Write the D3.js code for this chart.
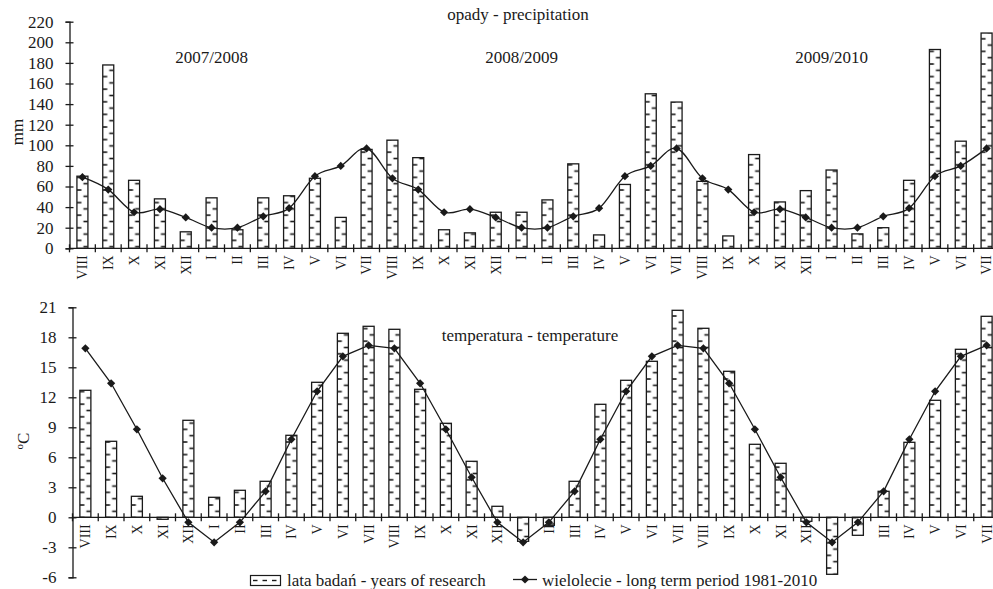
<!DOCTYPE html>
<html>
<head>
<meta charset="utf-8">
<script src="https://cdn.jsdelivr.net/npm/d3@7"></script>
<style>
  body { margin: 0; background: #fff; }
  svg text { font-family: "Liberation Serif", "Times New Roman", serif; fill: #1a1a1a; }
</style>
</head>
<body>
<svg id="chart" width="993" height="589"></svg>
<script>
// months from VIII 2007 to VII 2010
var months = ['VIII','IX','X','XI','XII','I','II','III','IV','V','VI','VII',
              'VIII','IX','X','XI','XII','I','II','III','IV','V','VI','VII',
              'VIII','IX','X','XI','XII','I','II','III','IV','V','VI','VII'];
var seasons = ['2007/2008', '2008/2009', '2009/2010'];

// opady - precipitation, mm
var precipResearch = [70, 178, 66, 48, 16, 49, 18, 49, 51, 68, 30, 96,
                      105, 88, 18, 15, 35, 35, 47, 82, 13, 62, 150, 142,
                      65, 12, 91, 45, 56, 76, 14, 20, 66, 193, 104, 209];
var precipLongTerm = [69, 57, 35, 38, 30, 20, 20, 31, 39, 70, 80, 97,
                      68, 57, 35, 38, 30, 20, 20, 31, 39, 70, 80, 97,
                      68, 57, 35, 38, 30, 20, 20, 31, 39, 70, 80, 97];
var precipTicks = d3.range(0, 221, 20);

// temperatura - temperature, oC
var tempResearch = [12.7, 7.6, 2.1, -0.2, 9.7, 2.0, 2.7, 3.6, 8.2, 13.5, 18.4, 19.1,
                    18.8, 12.8, 9.4, 5.6, 1.1, -2.4, -0.8, 3.6, 11.3, 13.7, 15.6, 20.7,
                    18.9, 14.6, 7.3, 5.4, -0.4, -5.7, -1.8, 2.6, 7.5, 11.7, 16.8, 20.1];
var tempLongTerm = [16.9, 13.4, 8.8, 3.9, -0.5, -2.5, -0.5, 2.6, 7.8, 12.6, 16.1, 17.2,
                    16.9, 13.4, 8.8, 4.0, -0.5, -2.5, -0.5, 2.6, 7.8, 12.6, 16.1, 17.2,
                    16.9, 13.4, 8.8, 4.0, -0.5, -2.5, -0.5, 2.6, 7.8, 12.6, 16.1, 17.2];
var tempTicks = d3.range(-6, 22, 3);

var svg = d3.select('#chart');
var defs = svg.append('defs');
var ink = '#1a1a1a';
var barW = 11;

// dashed fill, tile as wide as one category so every bar looks the same
function make_pattern(id, x0, step) {
  var p = defs.append('pattern')
    .attr('id', id)
    .attr('patternUnits', 'userSpaceOnUse')
    .attr('x', x0).attr('y', 0)
    .attr('width', step).attr('height', 12.6);
  p.append('rect').attr('width', step).attr('height', 12.6).attr('fill', '#fff');
  p.append('line').attr('x1', 0).attr('x2', 4.5).attr('y1', 1).attr('y2', 1)
    .attr('stroke', ink).attr('stroke-width', 1.6);
  p.append('line').attr('x1', 6.5).attr('x2', barW).attr('y1', 7.3).attr('y2', 7.3)
    .attr('stroke', ink).attr('stroke-width', 1.6);
}

function draw_panel(opt) {
  var g = svg.append('g');
  var x = d3.scaleBand().domain(d3.range(months.length)).range(opt.xRange);
  var y = d3.scaleLinear().domain(opt.domain).range(opt.yRange);
  var step = x.step();
  var off = (step - barW) / 2;
  var y0 = y(0);

  make_pattern(opt.id, x(0) + off, step);

  // month labels (under the bars, like the original)
  g.selectAll('.month')
    .data(months)
    .enter().append('text')
    .attr('class', 'month')
    .attr('transform', (d, i) => 'translate(' + (x(i) + step / 2) + ',' + (y0 + 7) + ') rotate(-90)')
    .attr('text-anchor', 'end')
    .attr('dy', '0.35em')
    .style('font-size', '14px')
    .text(d => d);

  // bars
  g.selectAll('.bar')
    .data(opt.bars)
    .enter().append('rect')
    .attr('class', 'bar')
    .attr('x', (d, i) => x(i) + off)
    .attr('y', d => y(Math.max(d, 0)))
    .attr('width', barW)
    .attr('height', d => Math.abs(y(d) - y0))
    .attr('fill', 'url(#' + opt.id + ')')
    .attr('stroke', ink)
    .attr('stroke-width', 1.3);

  // y axis, ticks crossing the line
  var ya = g.append('g')
    .attr('transform', 'translate(' + opt.xRange[0] + ',0)')
    .call(d3.axisLeft(y).tickValues(opt.ticks).tickSize(4).tickPadding(12).tickFormat(d => String(d)));
  ya.select('.domain').attr('stroke', ink).attr('stroke-width', 1.3);
  ya.selectAll('.tick line').attr('x1', 4).attr('stroke', ink).attr('stroke-width', 1.3);
  ya.selectAll('.tick text').style('font-size', '17px').attr('fill', ink);

  // x axis with ticks between categories
  g.append('line')
    .attr('x1', opt.xRange[0]).attr('x2', opt.xRange[1])
    .attr('y1', y0).attr('y2', y0)
    .attr('stroke', ink).attr('stroke-width', 1.3);
  g.selectAll('.xtick')
    .data(d3.range(months.length + 1))
    .enter().append('line')
    .attr('class', 'xtick')
    .attr('x1', i => opt.xRange[0] + i * step).attr('x2', i => opt.xRange[0] + i * step)
    .attr('y1', y0 - 4).attr('y2', y0 + 4)
    .attr('stroke', ink).attr('stroke-width', 1.3);

  // long term line
  var line = d3.line()
    .x((d, i) => x(i) + step / 2)
    .y(d => y(d))
    .curve(opt.curve);
  g.append('path')
    .datum(opt.longTerm)
    .attr('d', line)
    .attr('fill', 'none')
    .attr('stroke', ink)
    .attr('stroke-width', 1.3);
  g.selectAll('.mark')
    .data(opt.longTerm)
    .enter().append('path')
    .attr('class', 'mark')
    .attr('d', d3.symbol(d3.symbolSquare, 34))
    .attr('transform', (d, i) => 'translate(' + (x(i) + step / 2) + ',' + y(d) + ') rotate(45)')
    .attr('fill', ink);

  // axis title
  g.append('text')
    .attr('transform', 'translate(' + opt.titlePos[0] + ',' + opt.titlePos[1] + ') rotate(-90)')
    .attr('text-anchor', 'middle')
    .attr('dy', '0.35em')
    .style('font-size', '17px')
    .call(opt.unit);

  return { x: x, y: y };
}

var precipPanel = draw_panel({
  id: 'dashP', bars: precipResearch, longTerm: precipLongTerm, ticks: precipTicks,
  domain: [0, 220], xRange: [69.5, 999.5], yRange: [248.3, 21.7],
  curve: d3.curveCardinal.tension(0), titlePos: [17, 132],
  unit: t => t.text('mm')
});

draw_panel({
  id: 'dashT', bars: tempResearch, longTerm: tempLongTerm, ticks: tempTicks,
  domain: [-6, 21], xRange: [72.5, 999.5], yRange: [577.3, 307.3],
  curve: d3.curveLinear, titlePos: [23, 441],
  unit: t => {
    t.append('tspan').text('o').style('font-size', '11px').attr('baseline-shift', '0.55em');
    t.append('tspan').text('C');
  }
});

// titles
svg.append('text')
  .attr('x', 518).attr('y', 20)
  .attr('text-anchor', 'middle')
  .style('font-size', '17px')
  .text('opady - precipitation');

svg.append('text')
  .attr('x', 530).attr('y', 341)
  .attr('text-anchor', 'middle')
  .style('font-size', '17px')
  .text('temperatura - temperature');

// season labels over the January of each season
svg.selectAll('.season')
  .data(seasons)
  .enter().append('text')
  .attr('class', 'season')
  .attr('x', (d, i) => precipPanel.x(i * 12 + 5) + precipPanel.x.step() / 2)
  .attr('y', 63)
  .attr('text-anchor', 'middle')
  .style('font-size', '17px')
  .text(d => d);

// legend
var leg = svg.append('g');
leg.append('rect')
  .attr('x', 250.5).attr('y', 575.5).attr('width', 30).attr('height', 10)
  .attr('fill', '#fff').attr('stroke', ink).attr('stroke-width', 1.2);
leg.selectAll('.ldash')
  .data([0, 1, 2])
  .enter().append('line')
  .attr('class', 'ldash')
  .attr('x1', i => 253 + i * 9.5).attr('x2', i => 257.5 + i * 9.5)
  .attr('y1', 580.5).attr('y2', 580.5)
  .attr('stroke', ink).attr('stroke-width', 1.4);
leg.append('text')
  .attr('x', 287).attr('y', 586)
  .style('font-size', '17px')
  .text('lata badań - years of research');

leg.append('line')
  .attr('x1', 513).attr('x2', 537).attr('y1', 579.5).attr('y2', 579.5)
  .attr('stroke', ink).attr('stroke-width', 1.3);
leg.append('path')
  .attr('d', d3.symbol(d3.symbolSquare, 34))
  .attr('transform', 'translate(525,579.5) rotate(45)')
  .attr('fill', ink);
leg.append('text')
  .attr('x', 542).attr('y', 586)
  .style('font-size', '17px')
  .text('wielolecie - long term period 1981-2010');
</script>
</body>
</html>
